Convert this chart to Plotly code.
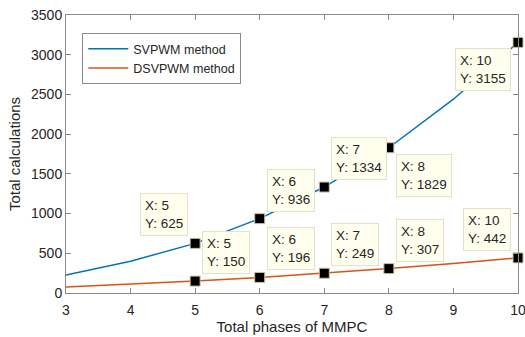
import plotly.graph_objects as go

phases = [3, 4, 5, 6, 7, 8, 9, 10]
svpwm = [225, 400, 625, 936, 1334, 1829, 2440, 3155]
dsvpwm = [75, 110, 150, 196, 249, 307, 372, 442]

# data tips: index into arrays
sv_tips = [2, 3, 4, 5, 7]
ds_tips = [2, 3, 4, 5, 7]
# placement of tip boxes (horizontal side, vertical side)
sv_place = [("left", "above"), ("right", "above"), ("right", "above"), ("right", "below"), ("left", "below")]
ds_place = [("right", "above"), ("right", "above"), ("right", "above"), ("right", "above"), ("left", "above")]

BLUE = "#0072BD"
ORANGE = "#D95319"
FONT = "Arial, Liberation Sans, sans-serif"
AX = "#8a8a8a"
TXT = "#262626"

fig = go.Figure()
fig.add_trace(go.Scatter(x=phases, y=svpwm, mode="lines", name="SVPWM method",
                         line=dict(color=BLUE, width=1.5)))
fig.add_trace(go.Scatter(x=phases, y=dsvpwm, mode="lines", name="DSVPWM method",
                         line=dict(color=ORANGE, width=1.5)))

for tips, vals in ((sv_tips, svpwm), (ds_tips, dsvpwm)):
    fig.add_trace(go.Scatter(x=[phases[i] for i in tips], y=[vals[i] for i in tips],
                             mode="markers", showlegend=False, hoverinfo="skip", cliponaxis=False,
                             marker=dict(symbol="square", size=10, color="black",
                                         line=dict(color="#c9c29a", width=1))))

annotations = []
for tips, vals, place in ((sv_tips, svpwm, sv_place), (ds_tips, dsvpwm, ds_place)):
    for i, (h, v) in zip(tips, place):
        annotations.append(dict(
            x=phases[i], y=vals[i], xref="x", yref="y",
            text=f"X: {phases[i]}<br>Y: {vals[i]}",
            showarrow=False, align="left",
            xanchor="left" if h == "right" else "right",
            yanchor="bottom" if v == "above" else "top",
            xshift=7 if h == "right" else -7,
            yshift=7 if v == "above" else -6,
            bgcolor="#FFFFEE", bordercolor="#e2e2cc", borderwidth=1, borderpad=4,
            font=dict(family=FONT, size=13.5, color=TXT),
        ))

fig.update_layout(
    width=525, height=337,
    margin=dict(l=66, r=7, t=15, b=44),
    paper_bgcolor="white", plot_bgcolor="white",
    font=dict(family=FONT, color=TXT),
    annotations=annotations,
    legend=dict(x=0.036, y=0.935, xanchor="left", yanchor="top",
                bgcolor="white", bordercolor=AX, borderwidth=1,
                font=dict(family=FONT, size=12.5, color=TXT),
                tracegroupgap=0, itemwidth=40),
    showlegend=True,
)
fig.update_xaxes(range=[3, 10], dtick=1, tick0=3, showgrid=False, zeroline=False,
                 showline=True, linecolor=AX, linewidth=1, mirror="ticks",
                 ticks="inside", ticklen=5, tickcolor=AX, ticklabeloverflow="allow",
                 ticklabelstandoff=4, automargin=False,
                 tickfont=dict(family=FONT, size=14, color=TXT),
                 title=dict(text="Total phases of MMPC", font=dict(family=FONT, size=15, color=TXT), standoff=3))
fig.update_yaxes(range=[0, 3500], dtick=500, showgrid=False, zeroline=False,
                 showline=True, linecolor=AX, linewidth=1, mirror="ticks",
                 ticks="inside", ticklen=5, tickcolor=AX, automargin=False,
                 tickfont=dict(family=FONT, size=14, color=TXT),
                 title=dict(text="Total calculations", font=dict(family=FONT, size=15, color=TXT), standoff=6))

fig.write_html("out.html")
